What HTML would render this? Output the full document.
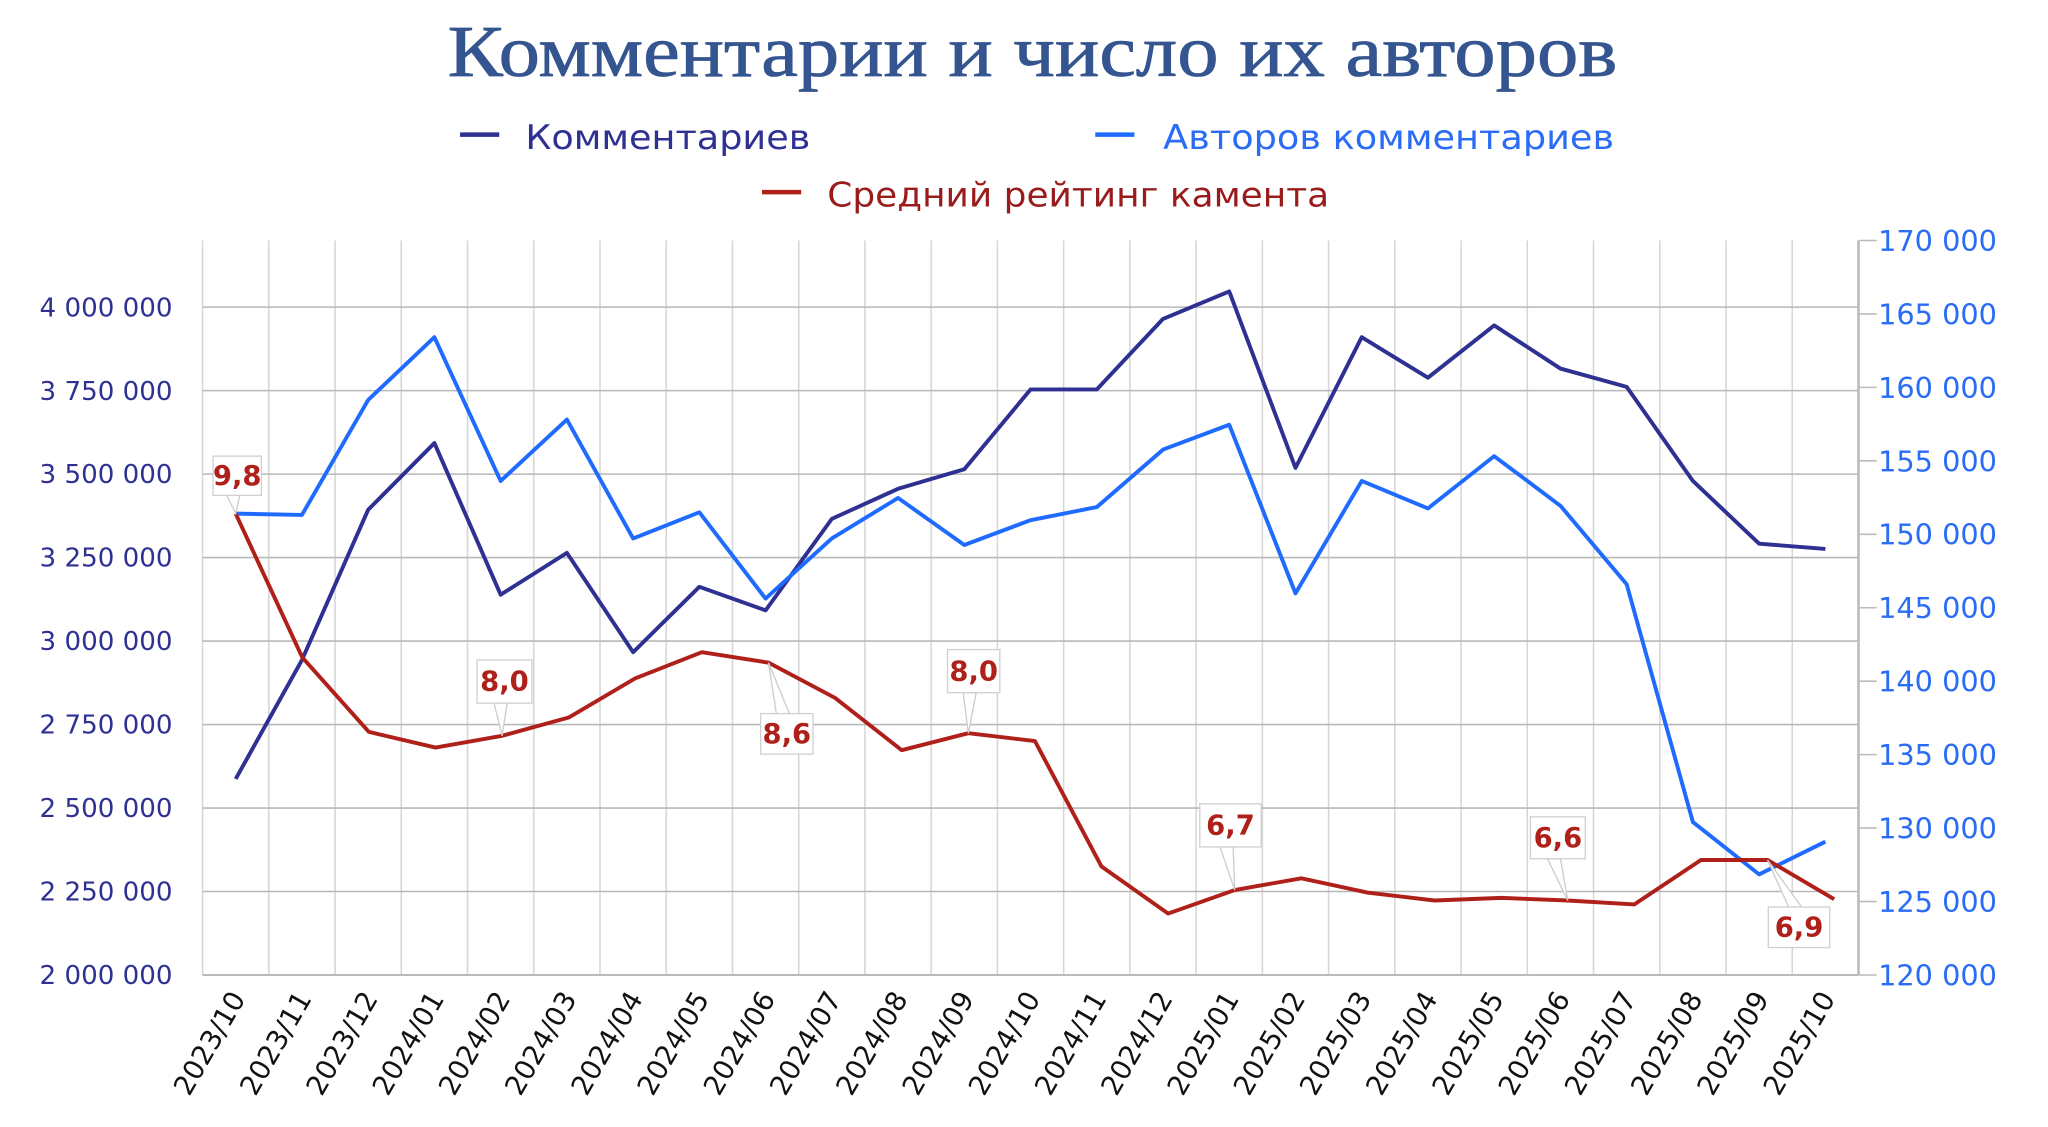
<!DOCTYPE html>
<html><head><meta charset="utf-8"><style>html,body{margin:0;padding:0;background:#fff}svg{display:block}</style></head>
<body>
<svg width="2048" height="1127" viewBox="0 0 1567 862.3" preserveAspectRatio="none" xmlns="http://www.w3.org/2000/svg">
<rect width="1567" height="862.3" fill="#fff"/>
<text x="790" y="58" text-anchor="middle" font-family="Liberation Serif, serif" font-size="56" fill="#34558f" stroke="#34558f" stroke-width="0.6" textLength="895" lengthAdjust="spacingAndGlyphs">Комментарии и число их авторов</text>
<g font-family="DejaVu Sans, sans-serif" font-size="26">
<line x1="352" y1="103" x2="382" y2="103" stroke="#2e3192" stroke-width="3.5"/>
<text x="402" y="114" fill="#2e3192" textLength="218" lengthAdjust="spacingAndGlyphs">Комментариев</text>
<line x1="838" y1="103" x2="868" y2="103" stroke="#1f6bff" stroke-width="3.5"/>
<text x="890" y="114" fill="#2a6cf6" textLength="345" lengthAdjust="spacingAndGlyphs">Авторов комментариев</text>
<line x1="583" y1="147" x2="613" y2="147" stroke="#b0201a" stroke-width="3.5"/>
<text x="633" y="158" fill="#9a1b1b" textLength="384" lengthAdjust="spacingAndGlyphs">Средний рейтинг камента</text>
</g>
<g id="grid" stroke="#d6d6d6" stroke-width="1.2"></g>
<g id="hgrid" stroke="#b8b8b8" stroke-width="1.2"></g>
<line x1="155" y1="746" x2="1422" y2="746" stroke="#bbb" stroke-width="1.5"/>
<line x1="1422" y1="184" x2="1422" y2="746" stroke="#bbb" stroke-width="2"/>
<g id="rt" stroke="#bbb" stroke-width="1.2"></g>
<g id="ll" font-family="DejaVu Sans, sans-serif" font-size="20" fill="#2e3192" text-anchor="end"></g>
<g id="rl" font-family="DejaVu Sans, sans-serif" font-size="22" fill="#2a6cf6"></g>
<g id="xl" font-family="DejaVu Sans, sans-serif" font-size="21" fill="#111" text-anchor="end"></g>
<polyline id="dark" fill="none" stroke="#2e3192" stroke-width="3" stroke-linejoin="round"/>
<polyline id="blue" fill="none" stroke="#1f6bff" stroke-width="3" stroke-linejoin="round"/>
<polyline id="red" fill="none" stroke="#b0201a" stroke-width="3" stroke-linejoin="round"/>
<g id="lbl" font-family="DejaVu Sans, sans-serif" font-size="21" font-weight="bold" fill="#b0201a" text-anchor="middle"></g>
</svg>
<script>
var NS="http://www.w3.org/2000/svg";
function el(p,t,a,txt){var e=document.createElementNS(NS,t);for(var k in a)e.setAttribute(k,a[k]);if(txt!=null)e.textContent=txt;document.getElementById(p).appendChild(e);return e;}
var band=(1422-155)/25;
for(var i=0;i<=25;i++){var x=155+band*i;el("grid","line",{x1:x,y1:184,x2:x,y2:746});}
var lv=["4 000 000","3 750 000","3 500 000","3 250 000","3 000 000","2 750 000","2 500 000","2 250 000","2 000 000"];
for(var i=0;i<9;i++){var y=235+i*(511/8);if(i<8)el("hgrid","line",{x1:155,y1:y,x2:1422,y2:y});el("ll","text",{x:132,y:y+7},lv[i]);}
for(var i=0;i<=10;i++){var y=184+i*(562/10);el("rt","line",{x1:1422,y1:y,x2:1436,y2:y});el("rl","text",{x:1437,y:y+8},(170-5*i)+" 000");}
var labs=["2023/10","2023/11","2023/12","2024/01","2024/02","2024/03","2024/04","2024/05","2024/06","2024/07","2024/08","2024/09","2024/10","2024/11","2024/12","2025/01","2025/02","2025/03","2025/04","2025/05","2025/06","2025/07","2025/08","2025/09","2025/10"];
function cx(i){return 155+band*(i+0.5);}
for(var i=0;i<25;i++){var x=cx(i)+8,y=764;el("xl","text",{x:x,y:y,transform:"rotate(-60 "+x+" "+y+")"},labs[i]);}
var D=[596,505,390,339,455,423,499,449,467,397,374,359,298,298,244,223,358,258,289,249,282,296,368,416,420];
var B=[393,394,306,258,368,321,412,392,458,412,381,417,398,388,344,325,454,368,389,349,387,447,629,669,644];
var R=[393,503,560,572,563,549,519,499,507,534,574,561,567,663,699,681,672,683,689,687,689,692,658,658,688];
function pts(a,off){return a.map(function(v,i){return (cx(i)+(off?i*0.28:0))+","+v;}).join(" ");}
document.getElementById("dark").setAttribute("points",pts(D));
document.getElementById("blue").setAttribute("points",pts(B));
document.getElementById("red").setAttribute("points",pts(R,1));
var L=[[0,"9,8",163,349,37,30],[4,"8,0",365,505,42,33],[8,"8,6",582,546,40,31],[11,"8,0",725,497,40,33],[15,"6,7",918,615,47,33],[20,"6,6",1171,625,42,32],[23,"6,9",1353,694,47,31]];
L.forEach(function(l){var i=l[0],px=cx(i)+i*0.28,py=R[i];var bx=l[2],by=l[3],w=l[4],h=l[5];
var above=by<py;var ey=above?by+h:by;var mx=bx+w/2;
el("lbl","polygon",{points:(mx-8)+","+ey+" "+px+","+py+" "+(mx+2)+","+ey,fill:"#fff",stroke:"#ccc","stroke-width":1});
el("lbl","rect",{x:bx,y:by,width:w,height:h,fill:"#fff",stroke:"#d0d0d0","stroke-width":1});
el("lbl","text",{x:mx,y:by+h/2+7},l[1]);});
</script>
</body></html>
